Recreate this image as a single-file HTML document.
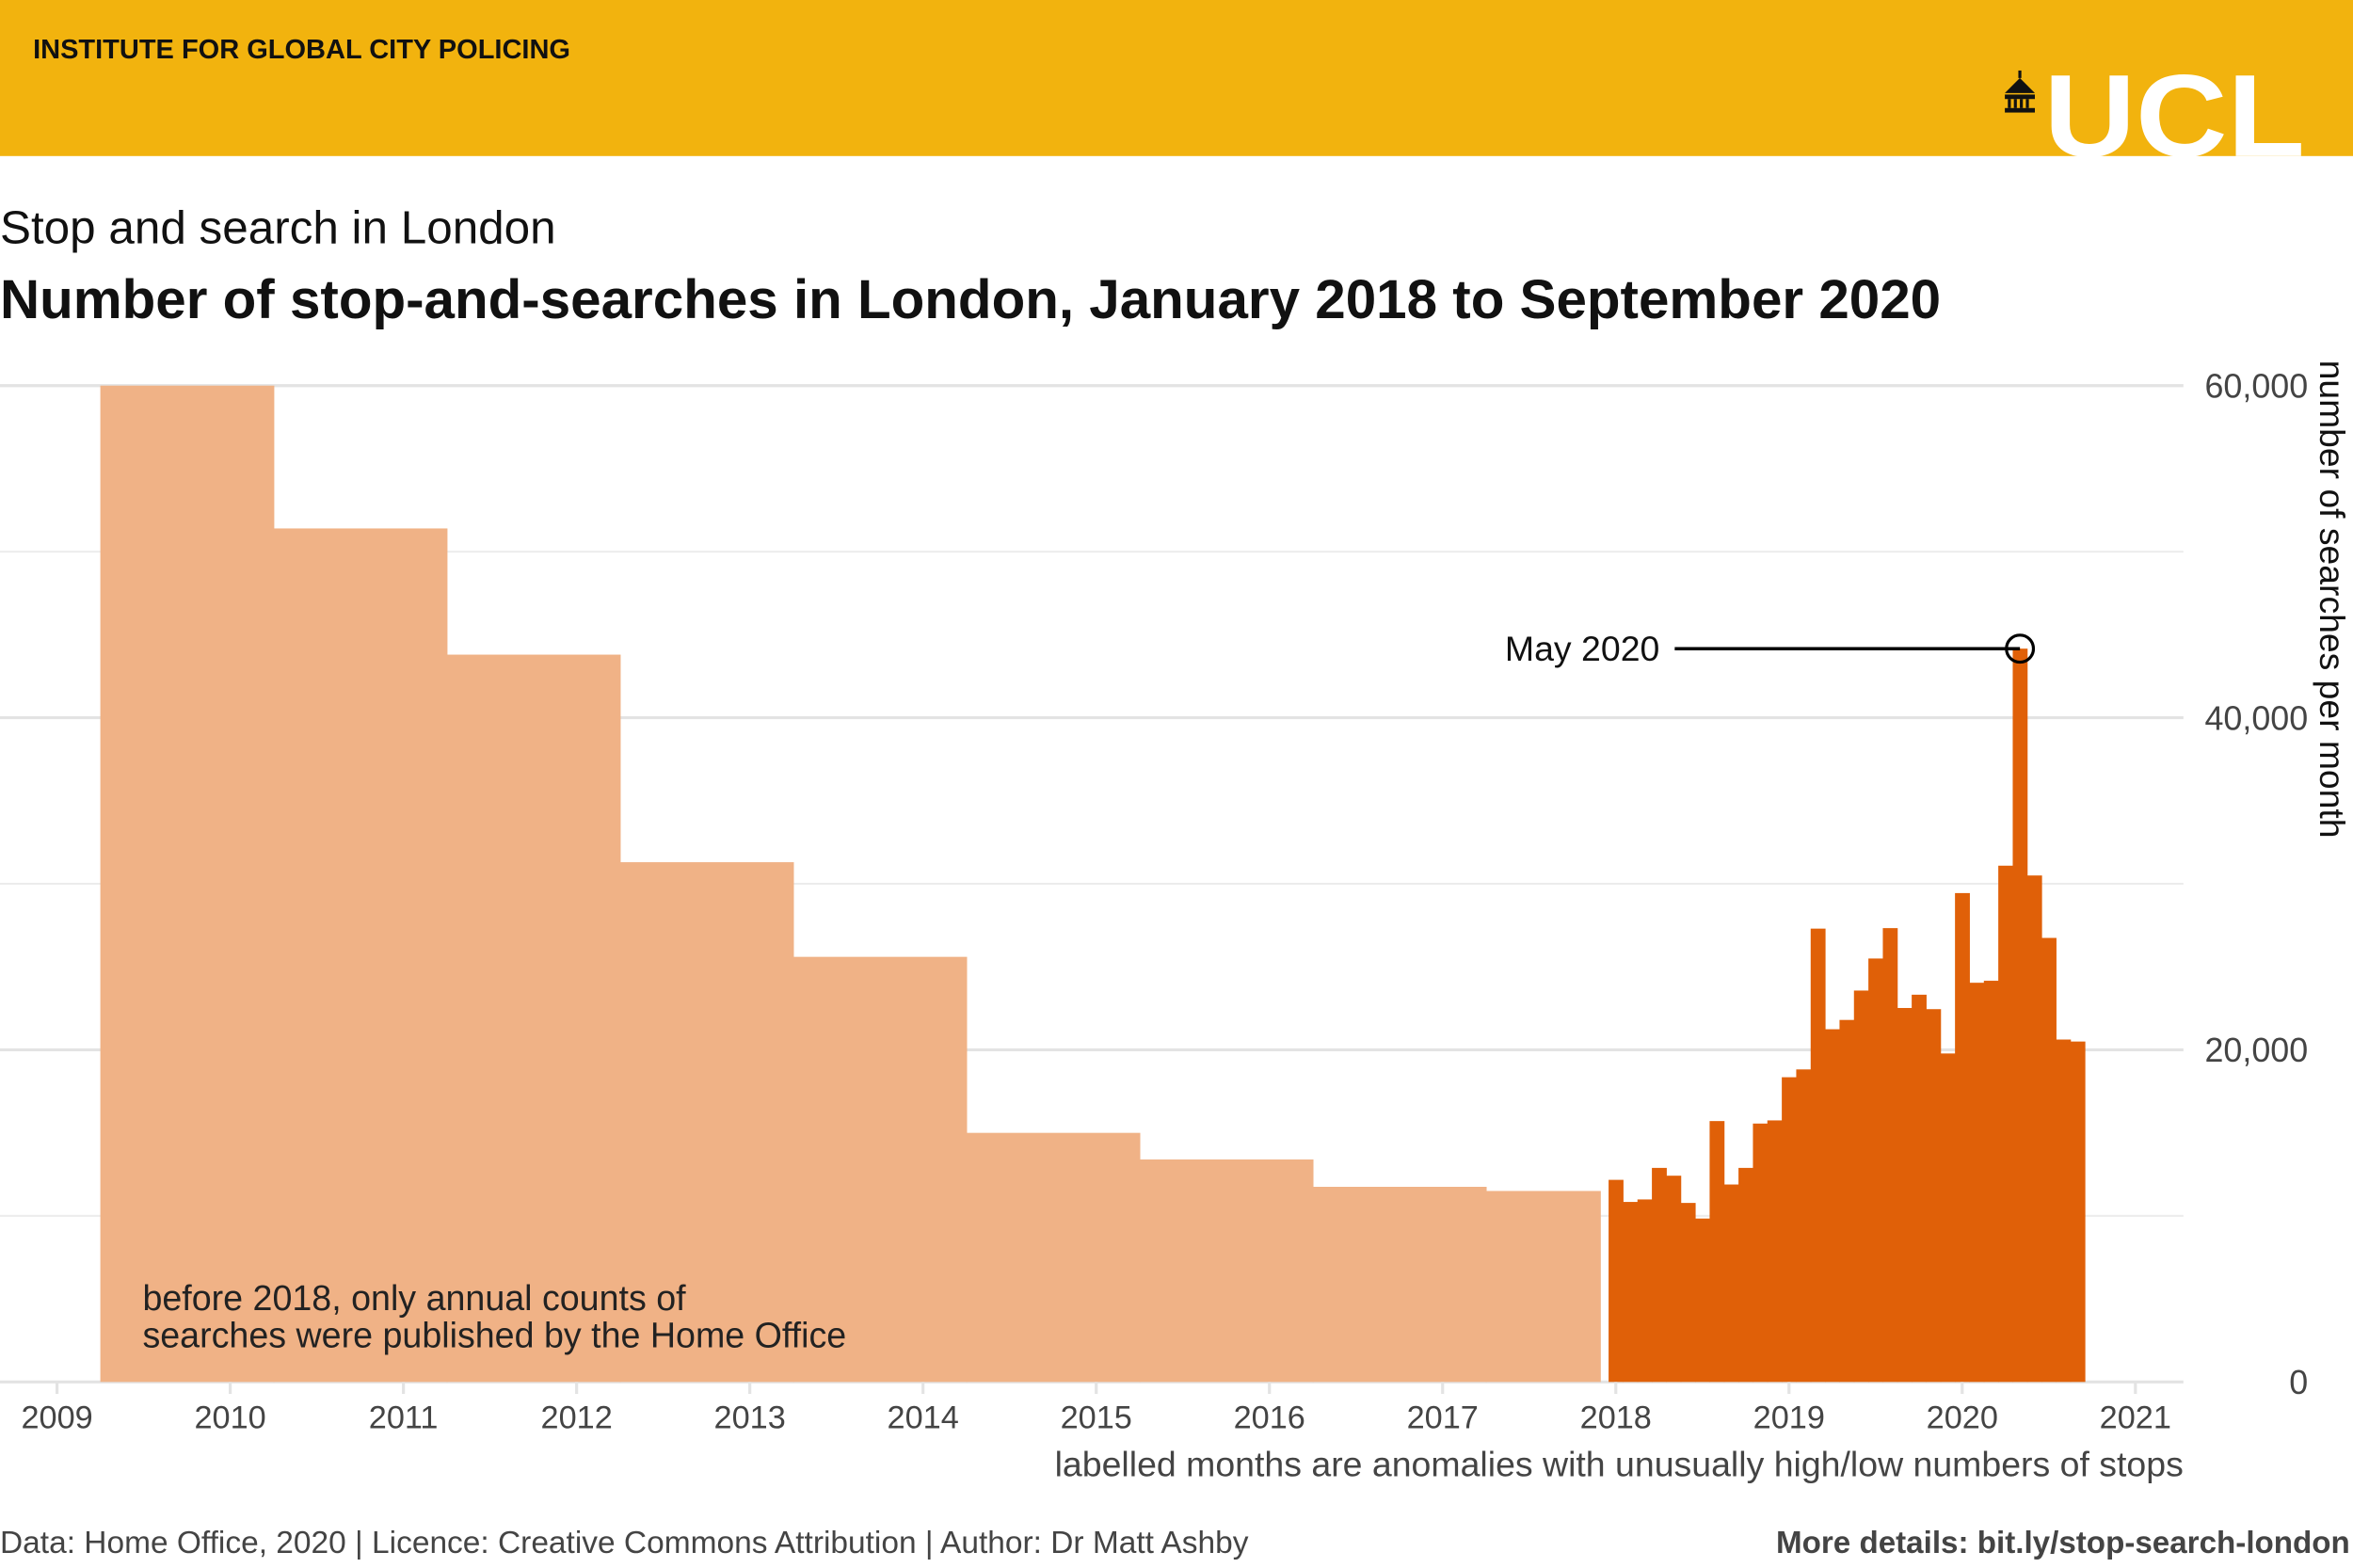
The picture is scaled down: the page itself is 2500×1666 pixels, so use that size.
<!DOCTYPE html>
<html><head><meta charset="utf-8"><style>
html,body{margin:0;padding:0;background:#fff}
svg{display:block;font-family:"Liberation Sans",sans-serif}
</style></head><body>
<svg id="chart" width="2500" height="1666" viewBox="0 0 1568 1045" preserveAspectRatio="none" xmlns="http://www.w3.org/2000/svg">
<rect x="0" y="0" width="1568" height="104" fill="#F2B30E"/>
<text x="22" y="39" font-size="18.2" font-weight="bold" fill="#111">INSTITUTE FOR GLOBAL CITY POLICING</text>
<g>
<g fill="#111"><polygon points="1336,62 1346,52 1356,62"/><rect x="1336" y="63" width="20" height="3"/><rect x="1338" y="66" width="2" height="6"/><rect x="1342" y="66" width="2" height="6"/><rect x="1346" y="66" width="2" height="6"/><rect x="1350" y="66" width="2" height="6"/><rect x="1336" y="72" width="20" height="3"/><rect x="1345" y="47" width="2" height="5"/></g>
<text x="1362" y="104" font-size="78" font-weight="bold" fill="#fff" textLength="174" lengthAdjust="spacingAndGlyphs">UCL</text>
</g>
<text x="0" y="162" font-size="31" fill="#111">Stop and search in London</text>
<text x="0" y="212" font-size="36.6" font-weight="bold" fill="#111">Number of stop-and-searches in London, January 2018 to September 2020</text>
<g id="grid"></g>
<g id="bars"></g>
<g id="xaxis"></g>
<g id="yaxis"></g>
<text transform="translate(1546,240) rotate(90)" font-size="23.4" fill="#111">number of searches per month</text>
<text x="95" y="873" font-size="23.6" fill="#222">before 2018, only annual counts of</text>
<text x="95" y="898" font-size="23.6" fill="#222">searches were published by the Home Office</text>
<g id="annot"></g>
<text x="1455" y="984" font-size="23.5" fill="#444" text-anchor="end">labelled months are anomalies with unusually high/low numbers of stops</text>
<text x="0" y="1035" font-size="21" fill="#444">Data: Home Office, 2020 | Licence: Creative Commons Attribution | Author: Dr Matt Ashby</text>
<text x="1566" y="1035" font-size="20.8" font-weight="bold" fill="#444" text-anchor="end">More details: bit.ly/stop-search-london</text>
</svg>
<script>
const annualStarts = [2009.25, 2010.25, 2011.25, 2012.25, 2013.25, 2014.25, 2015.25, 2016.25, 2017.25];
const annualValues = [60000, 51400, 43800, 31300, 25600, 15000, 13400, 11750, 11500];
const monthlyValues = [12170,10840,10990,12890,12420,10780,9840,15710,11890,12890,15560,15750,
 18350,18820,27300,21240,21800,23570,25500,27330,22520,23320,22450,19780,
 29440,24040,24160,31090,44160,30500,26740,20620,20500];
const yTicks = [0, 20000, 40000, 60000];
const yGrid = [0, 10000, 20000, 30000, 40000, 50000, 60000];
const xTicks = [2009,2010,2011,2012,2013,2014,2015,2016,2017,2018,2019,2020,2021];
const annotLabel = "May 2020";
const annotIndex = 28;

const NS = "http://www.w3.org/2000/svg";
const x = v => 38 + (v - 2009) * (1423 - 38) / 12;
const y = v => 921 - v * (921 - 257) / 60000;
function mk(tag, attrs, parent){const e=document.createElementNS(NS,tag);for(const k in attrs)e.setAttribute(k,attrs[k]);parent.appendChild(e);return e;}
const grid=document.getElementById('grid'), bars=document.getElementById('bars'), xa=document.getElementById('xaxis'), ya=document.getElementById('yaxis'), an=document.getElementById('annot');
yGrid.forEach(v=>{const l=mk('line',{x1:0,x2:1455,y1:y(v),y2:y(v),stroke:v%20000===0?'#e3e3e3':'#ececec','stroke-width':v%20000===0?2:1.2},grid);

});
xTicks.forEach(t=>{const l=mk('line',{x1:x(t),x2:x(t),y1:921,y2:929,stroke:'#e3e3e3','stroke-width':2},xa);


const tx=mk('text',{x:x(t),y:952,'font-size':21.5,fill:'#444','text-anchor':'middle'},xa);tx.textContent=t;

});
yTicks.forEach(t=>{const tx=mk('text',{x:1538,y:y(t)+8,'font-size':22.5,fill:'#444','text-anchor':'end'},ya);tx.textContent=t===0?'0':t.toLocaleString('en-US');

});
annualStarts.forEach((s,i)=>{const end=i===annualStarts.length-1? x(2018)-10 : x(s+1)+0.5;
const r=mk('rect',{x:x(s),y:y(annualValues[i]),width:end-x(s),height:921-y(annualValues[i]),fill:'#F0B286'},bars);

});
const mw=(x(2010)-x(2009))/12;
monthlyValues.forEach((v,i)=>{const c=x(2018+i/12);
const r=mk('rect',{x:c-mw/2,y:y(v),width:mw+0.3,height:921-y(v),fill:'#E06008'},bars);

});
const ax=x(2018+annotIndex/12), ay=y(monthlyValues[annotIndex]);
const ln=mk('line',{x1:1116,x2:ax,y1:ay,y2:ay,stroke:'#000','stroke-width':2.2},an);


const ci=mk('circle',{cx:ax,cy:ay,r:9,fill:'none',stroke:'#000','stroke-width':2},an);


const at=mk('text',{x:1106,y:ay+8,'font-size':23.5,fill:'#111','text-anchor':'end'},an);at.textContent=annotLabel;


</script>
</body></html>
